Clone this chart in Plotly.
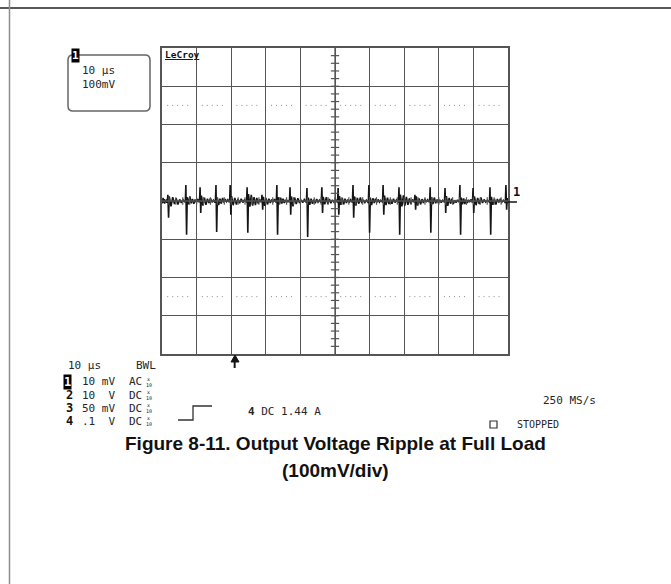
import plotly.graph_objects as go

# ---- page geometry (pixels) ----
W, H = 671, 584
GRID_L, GRID_R, GRID_T, GRID_B = 162, 508, 48, 354

# ---- scope settings ----
time_per_div_us = 10
volt_per_div_mv = 100
n_xdiv, n_ydiv = 10, 8
trigger_time_us = 21.0
dotted_levels_mv = [250, -250]

# ---- ripple spikes ----
spike_time_us = [1.7, 6.9, 11.0, 15.6, 19.7, 24.6, 28.9, 33.2, 37.0, 41.9, 46.2, 50.9,
                 55.2, 59.8, 63.9, 68.5, 73.1, 77.5, 81.8, 86.1, 89.9, 94.8, 99.4]
spike_high_mv = [16, 42, 36, 42, 42, 36, 16, 42, 36, 34, 36, 34,
                 42, 42, 42, 36, 16, 36, 34, 42, 34, 36, 42]
spike_low_mv = [-44, -88, -31, -81, -36, -83, -23, -88, -36, -94, -31, -36,
                -44, -83, -36, -88, -23, -83, -31, -88, -31, -88, -23]

# baseline ringing between spikes (one group per gap)
ringing_mv = [
    [3, -6, 8, -4, 5, -7, 2, -3, 4, -5],
    [12, -14, 10, -8, 7, -9, 4, -5, 3, -2],
    [10, -9, 12, -6, 5, -7, 4, -4, 5, -3],
    [14, -12, 9, -10, 6, -5, 7, -3, 2, -4],
    [9, -11, 6, -7, 8, -4, 5, -2, 3, -3],
    [13, -11, 8, -9, 5, -6, 6, -4, 3, -2],
    [18, -15, 16, -12, 10, -11, 8, -7, 4, -3],
    [11, -13, 7, -9, 6, -5, 4, -3, 5, -2],
    [10, -8, 9, -7, 6, -5, 3, -4, 2, -3],
    [12, -14, 9, -8, 7, -5, 3, -4, 4, -2],
    [9, -10, 6, -7, 4, -6, 5, -3, 2, -3],
    [11, -9, 10, -8, 5, -6, 3, -3, 4, -2],
    [13, -10, 8, -9, 6, -5, 4, -4, 3, -2],
    [12, -12, 8, -7, 9, -6, 3, -4, 2, -3],
    [9, -11, 7, -5, 6, -4, 4, -3, 2, -2],
    [14, -11, 9, -8, 5, -7, 6, -4, 3, -2],
    [17, -14, 15, -12, 11, -10, 7, -8, 4, -3],
    [12, -12, 7, -9, 5, -5, 6, -3, 3, -3],
    [10, -8, 9, -6, 4, -6, 3, -4, 2, -2],
    [13, -13, 8, -7, 6, -8, 2, -4, 3, -3],
    [9, -9, 7, -8, 4, -5, 3, -3, 4, -2],
    [12, -11, 8, -8, 9, -5, 4, -3, 2, -2],
    [11, -10, 6, -9, 5, -4, 6, -3, 2, -3],
    [8, -6, 5],
]

# ---- readout text ----
box_lines = ["10 µs", "100mV"]
channel_ids = ["1", "2", "3", "4"]
channel_scales = ["10 mV", "10  V", "50 mV", ".1  V"]
channel_coupling = ["AC", "DC", "DC", "DC"]
timebase_label = "10 µs"
bandwidth_label = "BWL"
trigger_label = "DC 1.44 A"
sample_rate_label = "250 MS/s"
status_label = "STOPPED"
caption_lines = ["Figure 8-11. Output Voltage Ripple at Full Load", "(100mV/div)"]

x_max = time_per_div_us * n_xdiv
y_half = volt_per_div_mv * n_ydiv / 2


def px(x):
    return x / W


def py(y):
    return 1 - y / H


# ---- assemble the trace polyline ----
tx, ty = [], []
edges = [0.0] + spike_time_us + [x_max]
for k in range(len(edges) - 1):
    start = edges[k] + (0.4 if k > 0 else 0.0)
    stop = edges[k + 1] - (0.3 if k < len(spike_time_us) else 0.0)
    group = ringing_mv[k]
    n = len(group)
    for i, v in enumerate(group):
        tx.append(start + (stop - start) * i / max(n - 1, 1))
        ty.append(v)
    if k < len(spike_time_us):
        t0 = spike_time_us[k]
        tx += [t0 - 0.15, t0, t0 + 0.2]
        ty += [0, spike_high_mv[k], spike_low_mv[k]]

GRID = "#555555"
INK = "#151515"
MONO = "DejaVu Sans Mono"

fig = go.Figure()
fig.add_trace(go.Scatter(x=tx, y=ty, mode="lines",
                         line=dict(color=INK, width=1.6), hoverinfo="skip",
                         showlegend=False))

shapes = []
# centre cross with fine graduations
shapes.append(dict(type="line", xref="x", yref="y", x0=x_max / 2, x1=x_max / 2,
                   y0=-y_half, y1=y_half, line=dict(color=GRID, width=1.3)))
shapes.append(dict(type="line", xref="x", yref="y", x0=0, x1=x_max, y0=0, y1=0,
                   line=dict(color=GRID, width=1.3)))
step_v = volt_per_div_mv / 5
v = -y_half + step_v
while v < y_half - 1e-6:
    shapes.append(dict(type="line", xref="x", yref="y", x0=x_max / 2 - 1.2,
                       x1=x_max / 2 + 1.2, y0=v, y1=v,
                       line=dict(color=GRID, width=1.2)))
    v += step_v
step_t = time_per_div_us / 5
t = step_t
while t < x_max - 1e-6:
    shapes.append(dict(type="line", xref="x", yref="y", x0=t, x1=t,
                       y0=-10, y1=10, line=dict(color=GRID, width=1.2)))
    t += step_t
# dotted guide rows inside each column
for lvl in dotted_levels_mv:
    for c in range(n_xdiv):
        x0 = c * time_per_div_us + 1.5
        shapes.append(dict(type="line", xref="x", yref="y", x0=x0,
                           x1=x0 + time_per_div_us - 3, y0=lvl, y1=lvl,
                           line=dict(color="#8a8a8a", width=1, dash="1px,4px")))

# page frame lines
shapes.append(dict(type="line", xref="paper", yref="paper", x0=0, x1=1,
                   y0=py(8), y1=py(8), line=dict(color="#222", width=1.5)))
shapes.append(dict(type="line", xref="paper", yref="paper", x0=px(9.5), x1=px(9.5),
                   y0=0, y1=1, line=dict(color="#8c8c8c", width=1.5)))

# readout box with rounded corners
bx0, bx1, by0, by1, r = 68, 150, 55, 111, 5
box_path = (f"M {px(bx0 + r)},{py(by0)} L {px(bx1 - r)},{py(by0)} "
            f"Q {px(bx1)},{py(by0)} {px(bx1)},{py(by0 + r)} "
            f"L {px(bx1)},{py(by1 - r)} Q {px(bx1)},{py(by1)} {px(bx1 - r)},{py(by1)} "
            f"L {px(bx0 + r)},{py(by1)} Q {px(bx0)},{py(by1)} {px(bx0)},{py(by1 - r)} "
            f"L {px(bx0)},{py(by0 + r)} Q {px(bx0)},{py(by0)} {px(bx0 + r)},{py(by0)} Z")
shapes.append(dict(type="path", xref="paper", yref="paper", path=box_path,
                   line=dict(color="#666", width=1.5)))

# trigger pointer under the grid
shapes.append(dict(type="line", xref="x", yref="paper", x0=trigger_time_us,
                   x1=trigger_time_us, y0=py(368), y1=py(358),
                   line=dict(color=INK, width=2)))
shapes.append(dict(type="path", xref="paper", yref="paper",
                   path=f"M {px(231)},{py(362)} L {px(235)},{py(355)} L {px(239)},{py(362)} Z",
                   fillcolor=INK, line=dict(color=INK, width=1)))

# channel-1 marker at the right edge
shapes.append(dict(type="line", xref="paper", yref="paper", x0=px(GRID_R),
                   x1=px(517), y0=py(202), y1=py(202),
                   line=dict(color=INK, width=1.5)))

# trigger slope symbol
shapes.append(dict(type="path", xref="paper", yref="paper",
                   path=(f"M {px(178)},{py(420)} L {px(193)},{py(420)} "
                         f"L {px(193)},{py(406)} L {px(212)},{py(406)}"),
                   line=dict(color="#333", width=1.3)))
# status square
shapes.append(dict(type="rect", xref="paper", yref="paper", x0=px(490), x1=px(497),
                   y0=py(428), y1=py(421), line=dict(color="#333", width=1.2)))

ann = []


def text(x, y, s, size=11, bold=False, color="#262626", family=MONO,
         xanchor="left", bg=None):
    d = dict(x=px(x), y=py(y), xref="paper", yref="paper", text=f"<b>{s}</b>" if bold else s,
             showarrow=False, xanchor=xanchor, yanchor="middle",
             font=dict(family=family, size=size, color=color))
    if bg:
        d.update(bgcolor=bg, borderpad=0)
    ann.append(d)


# box contents
text(71, 56, "1", size=11, bold=True, color="white", bg="black")
text(80, 70, box_lines[0])
text(80, 84, box_lines[1])
text(163, 54, "<u>LeCroy</u>", size=9.5, bold=True, color="#111")
text(511, 192, "1", size=12, bold=True, color="#111")

# bottom-left readout
text(66, 365, timebase_label)
text(134, 365, bandwidth_label)
for i, (cid, sc, cp) in enumerate(zip(channel_ids, channel_scales, channel_coupling)):
    yy = 382 + 13 * i
    if i == 0:
        text(63, yy, cid, size=12, bold=True, color="white", bg="black")
    else:
        text(64, yy, cid, size=12, bold=True, color="#111")
    text(80, yy, sc)
    text(127, yy, cp)
    text(145, yy - 3, "x", size=5)
    text(144, yy + 3, "10", size=5)

text(246, 411, f"<b>{channel_ids[3]}</b> {trigger_label}", color="#262626")
text(598, 400, sample_rate_label, xanchor="right")
text(515, 424, status_label, size=10)

# caption
text(W / 2, 443, caption_lines[0], size=19, bold=True, color="#111",
     family="Liberation Sans, Arial", xanchor="center")
text(W / 2, 471, caption_lines[1], size=19, bold=True, color="#111",
     family="Liberation Sans, Arial", xanchor="center")

axis_common = dict(showgrid=True, gridcolor=GRID, gridwidth=1.3, zeroline=False,
                   showline=True, mirror=True, linecolor=GRID, linewidth=1.6,
                   showticklabels=False, ticks="", fixedrange=True)
fig.update_layout(
    width=W, height=H, autosize=False,
    margin=dict(l=0, r=0, t=0, b=0),
    paper_bgcolor="white", plot_bgcolor="white",
    xaxis=dict(range=[0, x_max], dtick=time_per_div_us,
               domain=[px(GRID_L), px(GRID_R)], **axis_common),
    yaxis=dict(range=[-y_half, y_half], dtick=volt_per_div_mv,
               domain=[py(GRID_B), py(GRID_T)], **axis_common),
    shapes=shapes, annotations=ann, showlegend=False,
)

fig.write_html("out.html")
